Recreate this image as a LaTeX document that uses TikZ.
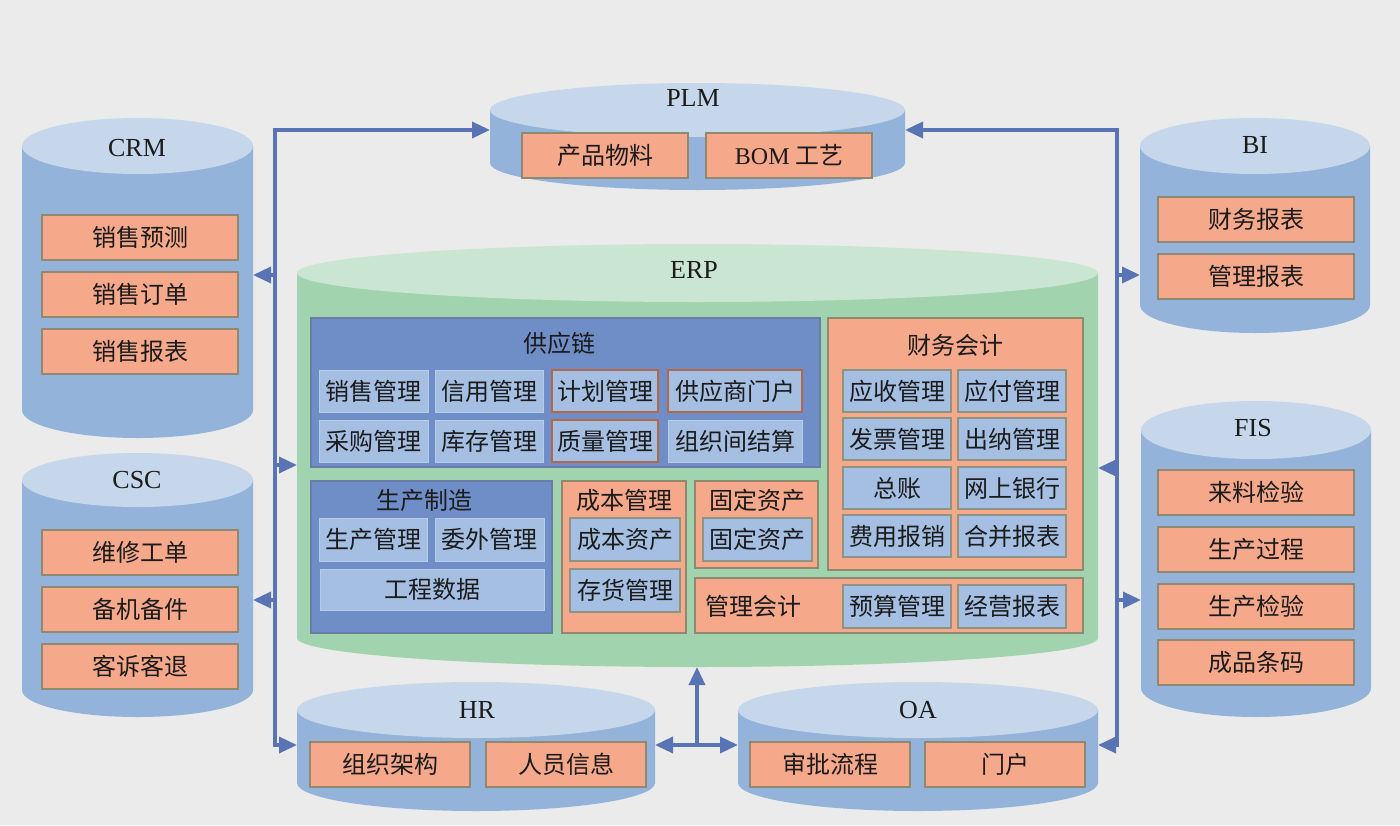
\documentclass[tikz,border=0pt]{standalone}
\usepackage{xcolor}
\usepackage{fontspec}
\setmainfont{Liberation Serif}
\newfontfamily\cjk{Noto Sans CJK SC}
\usepackage{tikz}
\usetikzlibrary{calc,positioning,arrows.meta}

\definecolor{bgc}{HTML}{EAEBEA}
\definecolor{drumside}{HTML}{93B3DB}
\definecolor{drumtop}{HTML}{C6D7EC}
\definecolor{erpside}{HTML}{A1D4AE}
\definecolor{erptop}{HTML}{CAE6D2}
\definecolor{salmon}{HTML}{F5A88A}
\definecolor{salmonline}{HTML}{8F8A6F}
\definecolor{panelblue}{HTML}{6F8EC8}
\definecolor{panelline}{HTML}{6A7DA6}
\definecolor{paleblue}{HTML}{A5BFE3}
\definecolor{paleline}{HTML}{8E9483}
\definecolor{redline}{HTML}{B5674A}
\definecolor{busblue}{HTML}{5874B5}
\definecolor{inkc}{HTML}{1B1B1B}

% drum: x left, x right, top centre y, bottom centre y, y radius, side colour, top colour
\newcommand\drumshape[7]{%
  \fill[#6] (#1,#3) -- (#1,#4)
    arc[start angle=180, end angle=360, x radius={(#2-#1)/2*1pt}, y radius=#5pt]
    -- (#2,#3) -- cycle;
  \fill[#7] ({(#1+#2)/2},#3) ellipse[x radius={(#2-#1)/2*1pt}, y radius=#5pt];
}

\begin{document}
\begin{tikzpicture}[x=1pt, y=-1pt,
    tag/.style={font=\cjk\fontsize{24}{26}\selectfont, text=inkc, inner sep=0pt},
    obox/.style={tag, draw=salmonline, line width=2pt, fill=salmon, minimum height=45pt},
    pbox/.style={tag, fill=paleblue, draw=paleblue!80!white, line width=1pt, minimum height=42pt},
    gbox/.style={pbox, draw=paleline, line width=2pt},
    rbox/.style={pbox, draw=redline, line width=2pt},
    bpanel/.style={fill=panelblue, draw=panelline, line width=1.5pt, inner sep=0pt},
    spanel/.style={fill=salmon, draw=salmonline, line width=2pt, inner sep=0pt},
    cyllabel/.style={font=\rmfamily\fontsize{26}{28}\selectfont, text=inkc},
    spot/.style={inner sep=0pt, outer sep=0pt},
    bus/.style={draw=busblue, line width=3.5pt},
    tip/.style={-{Triangle[length=18pt,width=16pt]}},
    twotip/.style={{Triangle[length=18pt,width=16pt]}-{Triangle[length=18pt,width=16pt]}},
  ]
  \fill[bgc] (0,0) rectangle (1400,825);
  \useasboundingbox (0,0) rectangle (1400,825);

  % drums
  \drumshape{490}{905}{110}{163}{27}{drumside}{drumtop}
  \drumshape{22}{253}{146}{410}{28}{drumside}{drumtop}
  \drumshape{22}{253}{480}{690}{27}{drumside}{drumtop}
  \drumshape{1140}{1370}{146}{305}{28}{drumside}{drumtop}
  \drumshape{1141}{1371}{430}{688}{29}{drumside}{drumtop}
  \drumshape{297}{655}{710}{783}{28}{drumside}{drumtop}
  \drumshape{738}{1098}{710}{783}{28}{drumside}{drumtop}
  \drumshape{297}{1098}{273}{638}{29}{erpside}{erptop}

  % hot spots for the connectors
  \node[spot, minimum width=415pt, minimum height=107pt] (plm) at (697.5,136.5) {};
  \node[spot, minimum width=231pt, minimum height=320pt] (crm) at (137.5,278) {};
  \node[spot, minimum width=231pt, minimum height=264pt] (csc) at (137.5,585) {};
  \node[spot, minimum width=230pt, minimum height=215pt] (bi) at (1255,225) {};
  \node[spot, minimum width=230pt, minimum height=316pt] (fis) at (1256,559) {};
  \node[spot, minimum width=358pt, minimum height=128pt] (hr) at (476,746) {};
  \node[spot, minimum width=360pt, minimum height=128pt] (oa) at (918,746) {};
  \node[spot, minimum width=801pt, minimum height=423pt] (erp) at (697.5,455.5) {};

  % drum labels
  \node[cyllabel] (plmlbl) at (693,98) {PLM};
  \node[cyllabel] (crmlbl) at (137,148) {CRM};
  \node[cyllabel] (csclbl) at (137,480) {CSC};
  \node[cyllabel] (bilbl) at (1255,145) {BI};
  \node[cyllabel] (fislbl) at (1253,428) {FIS};
  \node[cyllabel] (hrlbl) at (477,710) {HR};
  \node[cyllabel] (oalbl) at (918,710) {OA};
  \node[cyllabel] (erplbl) at (694,270) {ERP};

  % outer systems
  \node[obox, minimum width=166pt] (plm1) at (605,155.5) {产品物料};
  \node[obox, minimum width=166pt] (plm2) at (789,155.5) {{\rmfamily BOM}\ 工艺};
  \foreach \t [count=\i] in {销售预测,销售订单,销售报表}
    \node[obox, minimum width=196pt] (crm\i) at (140,{180.5+57*\i}) {\t};
  \foreach \t [count=\i] in {维修工单,备机备件,客诉客退}
    \node[obox, minimum width=196pt] (csc\i) at (140,{495.5+57*\i}) {\t};
  \foreach \t [count=\i] in {财务报表,管理报表}
    \node[obox, minimum width=196pt] (bi\i) at (1256,{162.5+57*\i}) {\t};
  \foreach \t [count=\i] in {来料检验,生产过程,生产检验,成品条码}
    \node[obox, minimum width=196pt] (fis\i) at (1256,{436+56.7*\i}) {\t};
  \node[obox, minimum width=160pt] (hr1) at (390,764.5) {组织架构};
  \node[obox, minimum width=160pt] (hr2) at (566,764.5) {人员信息};
  \node[obox, minimum width=160pt] (oa1) at (830,764.5) {审批流程};
  \node[obox, minimum width=160pt] (oa2) at (1005,764.5) {门户};

  % ERP: supply chain
  \node[bpanel, minimum width=509pt, minimum height=149pt] (scm) at (565.5,392.5) {};
  \node[tag] (scmlbl) at (559,343) {供应链};
  \node[pbox, minimum width=109pt] (scm1) at (373.5,391) {销售管理};
  \node[pbox, minimum width=108pt] (scm2) at (489,391) {信用管理};
  \node[rbox, minimum width=106pt] (scm3) at (605,391) {计划管理};
  \node[rbox, minimum width=134pt] (scm4) at (735,391) {供应商门户};
  \node[pbox, minimum width=109pt] (scm5) at (373.5,441) {采购管理};
  \node[pbox, minimum width=108pt] (scm6) at (489,441) {库存管理};
  \node[rbox, minimum width=106pt] (scm7) at (605,441) {质量管理};
  \node[pbox, minimum width=134pt] (scm8) at (735,441) {组织间结算};

  % ERP: manufacturing
  \node[bpanel, minimum width=241pt, minimum height=152pt] (mfg) at (431.5,557) {};
  \node[tag] (mfglbl) at (424,500) {生产制造};
  \node[pbox, minimum width=108pt, minimum height=43pt] (mfg1) at (373,539.5) {生产管理};
  \node[pbox, minimum width=109pt, minimum height=43pt] (mfg2) at (489.5,539.5) {委外管理};
  \node[pbox, minimum width=224pt, minimum height=41pt] (mfg3) at (432,589.5) {工程数据};

  % ERP: cost
  \node[spanel, minimum width=124pt, minimum height=152pt] (cost) at (624,557) {};
  \node[tag] (costlbl) at (624,500) {成本管理};
  \node[gbox, minimum width=110pt, minimum height=43pt] (cost1) at (625,539.5) {成本资产};
  \node[gbox, minimum width=110pt, minimum height=43pt] (cost2) at (625,590.5) {存货管理};

  % ERP: fixed assets
  \node[spanel, minimum width=123pt, minimum height=87pt] (fa) at (756.5,524.5) {};
  \node[tag] (falbl) at (757,500) {固定资产};
  \node[gbox, minimum width=109pt, minimum height=43pt] (fa1) at (757,539.5) {固定资产};

  % ERP: financial accounting
  \node[spanel, minimum width=255pt, minimum height=252pt] (fin) at (955.5,444) {};
  \node[tag] (finlbl) at (955,345) {财务会计};
  \node[gbox, minimum width=108pt] (fin1) at (897,391) {应收管理};
  \node[gbox, minimum width=108pt] (fin2) at (1012,391) {应付管理};
  \node[gbox, minimum width=108pt] (fin3) at (897,439) {发票管理};
  \node[gbox, minimum width=108pt] (fin4) at (1012,439) {出纳管理};
  \node[gbox, minimum width=108pt] (fin5) at (897,488) {总账};
  \node[gbox, minimum width=108pt] (fin6) at (1012,488) {网上银行};
  \node[gbox, minimum width=108pt] (fin7) at (897,536) {费用报销};
  \node[gbox, minimum width=108pt] (fin8) at (1012,536) {合并报表};

  % ERP: management accounting
  \node[spanel, minimum width=388pt, minimum height=55pt] (mgt) at (889,605.5) {};
  \node[tag] (mgtlbl) at (753,606) {管理会计};
  \node[gbox, minimum width=108pt, minimum height=43pt] (mgt1) at (897,606.5) {预算管理};
  \node[gbox, minimum width=108pt, minimum height=43pt] (mgt2) at (1012,606.5) {经营报表};

  % buses
  \coordinate (ltop) at (275,130);
  \coordinate (lbot) at (275,745);
  \coordinate (rtop) at (1117,130);
  \coordinate (rbot) at (1117,745);
  \coordinate (hub) at (697,745);
  \draw[bus, twotip] (lbot -| hr.west) -- (lbot) -- (ltop) -- (ltop -| plm.west);
  \draw[bus, twotip] (rbot -| oa.east) -- (rbot) -- (rtop) -- (rtop -| plm.east);

  % left branches
  \draw[bus, tip] (275,275) coordinate (l1) -- (l1 -| crm.east);
  \draw[bus, tip] (275,465) coordinate (l2) -- (l2 -| erp.west);
  \draw[bus, tip] (275,600) coordinate (l3) -- (l3 -| csc.east);

  % right branches
  \draw[bus, tip] (1117,275) coordinate (r1) -- (r1 -| bi.west);
  \draw[bus, tip] (1117,468) coordinate (r2) -- (r2 -| erp.east);
  \draw[bus, tip] (1117,600) coordinate (r3) -- (r3 -| fis.west);

  % bottom
  \draw[bus, twotip] (hub -| hr.east) -- (hub -| oa.west);
  \draw[bus, tip] (hub) -- (hub |- erp.south);
\end{tikzpicture}
\end{document}
